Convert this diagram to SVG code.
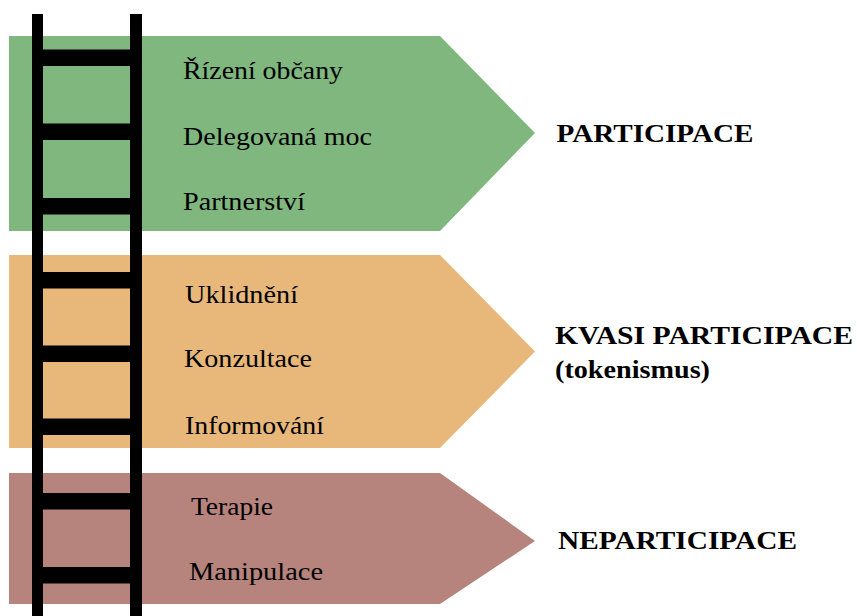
<svg xmlns="http://www.w3.org/2000/svg" width="857" height="616" viewBox="0 0 857 616">
<style>
.lvl{font-family:"Liberation Serif","Times New Roman",serif;font-size:25px;fill:#000}
.cat{font-family:"Liberation Serif","Times New Roman",serif;font-size:25px;font-weight:bold;fill:#000}
.lad{fill:#000}
</style>
<rect width="857" height="616" fill="#fff"/>
<g id="band-participace">
<polygon points="9,36 440,36 535,133 440,231 9,231" fill="#7fb77e"/>
</g>
<g id="band-kvasi">
<polygon points="9,255 440,255 535,351.5 440,448 9,448" fill="#e8b87a"/>
</g>
<g id="band-neparticipace">
<polygon points="9,473 440,473 535,541 440,604 9,604" fill="#b6837d"/>
</g>
<g id="ladder">
<rect class="lad" x="32" y="14" width="11" height="602"/>
<rect class="lad" x="130" y="14" width="12" height="602"/>
<rect class="lad" x="32" y="49.5" width="110" height="16.5"/>
<rect class="lad" x="32" y="123.5" width="110" height="16.5"/>
<rect class="lad" x="32" y="198" width="110" height="16.5"/>
<rect class="lad" x="32" y="272" width="110" height="16.5"/>
<rect class="lad" x="32" y="345.5" width="110" height="16.5"/>
<rect class="lad" x="32" y="418.5" width="110" height="16.5"/>
<rect class="lad" x="32" y="493" width="110" height="16.5"/>
<rect class="lad" x="32" y="567" width="110" height="16.5"/>
</g>
<g id="levels">
<text class="lvl" x="183" y="78.5" textLength="160" lengthAdjust="spacingAndGlyphs">Řízení občany</text>
<text class="lvl" x="183" y="144.5" textLength="189" lengthAdjust="spacingAndGlyphs">Delegovaná moc</text>
<text class="lvl" x="183" y="209.5" textLength="122" lengthAdjust="spacingAndGlyphs">Partnerství</text>
<text class="lvl" x="185" y="302.5" textLength="113" lengthAdjust="spacingAndGlyphs">Uklidnění</text>
<text class="lvl" x="184" y="367" textLength="128" lengthAdjust="spacingAndGlyphs">Konzultace</text>
<text class="lvl" x="185" y="433.5" textLength="139" lengthAdjust="spacingAndGlyphs">Informování</text>
<text class="lvl" x="191" y="514.5" textLength="82" lengthAdjust="spacingAndGlyphs">Terapie</text>
<text class="lvl" x="189" y="580" textLength="134" lengthAdjust="spacingAndGlyphs">Manipulace</text>
</g>
<g id="categories">
<text class="cat" x="556.5" y="142" textLength="197" lengthAdjust="spacingAndGlyphs">PARTICIPACE</text>
<text class="cat" x="555" y="343.5" textLength="298" lengthAdjust="spacingAndGlyphs">KVASI PARTICIPACE</text>
<text class="cat" x="555" y="378" textLength="155" lengthAdjust="spacingAndGlyphs">(tokenismus)</text>
<text class="cat" x="558" y="548.5" textLength="239" lengthAdjust="spacingAndGlyphs">NEPARTICIPACE</text>
</g>
</svg>
